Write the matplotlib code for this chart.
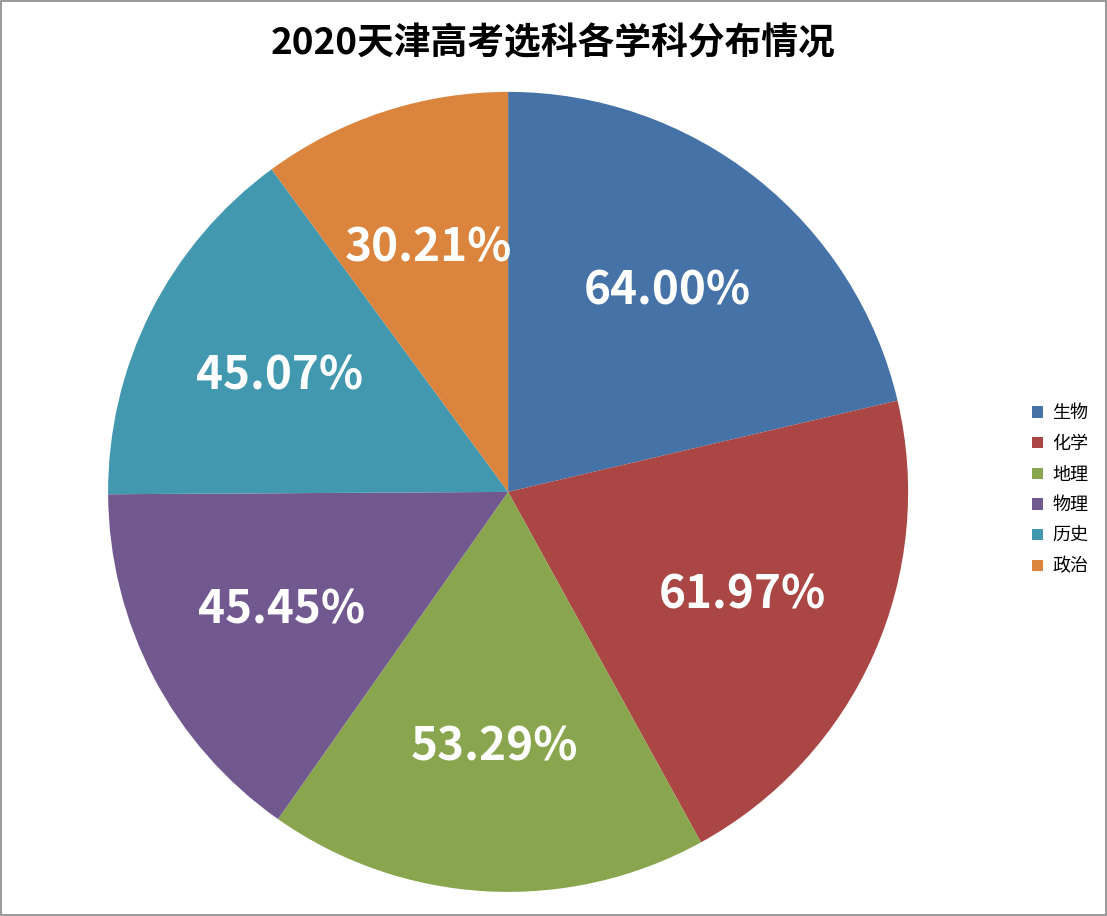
import matplotlib
matplotlib.use("Agg")
import matplotlib.pyplot as plt
from matplotlib.patches import Rectangle

plt.rcParams['font.family'] = ['Noto Sans CJK SC', 'DejaVu Sans']

categories = ['生物', '化学', '地理', '物理', '历史', '政治']
values = [64.00, 61.97, 53.29, 45.45, 45.07, 30.21]
colors = ['#4572A7', '#AA4643', '#89A54E', '#71588F', '#4198AF', '#DB843D']

fig = plt.figure(figsize=(11.07, 9.16), dpi=100)
w, h = 0.7227 * 1.25, 0.8734 * 1.25
ax = fig.add_axes([0.459 - w / 2, 0.463 - h / 2, w, h])
labels_iter = iter(values)
wedges, texts, autotexts = ax.pie(values, colors=colors, startangle=90, counterclock=False,
                                  autopct=lambda p: f"{next(labels_iter):.2f}%", pctdistance=0.64,
                                  wedgeprops=dict(linewidth=0))
for t in autotexts:
    t.set_color('white'); t.set_fontsize(33); t.set_fontweight('bold')
ax.set_aspect('equal')
fig.text(0.5, 0.952, '2020天津高考选科各学科分布情况', ha='center', va='center',
         fontsize=26.5, fontweight='bold')
fig.legend(wedges, categories, loc='center left', bbox_to_anchor=(0.918, 0.465),
           frameon=False, fontsize=13, handlelength=0.6, handleheight=0.6,
           labelspacing=0.7, handletextpad=0.5)
fig.patches.append(Rectangle((0.001, 0.001), 0.998, 0.998, transform=fig.transFigure,
                             fill=False, edgecolor='#888888', linewidth=1.2))
fig.savefig('out.png', dpi=100)
